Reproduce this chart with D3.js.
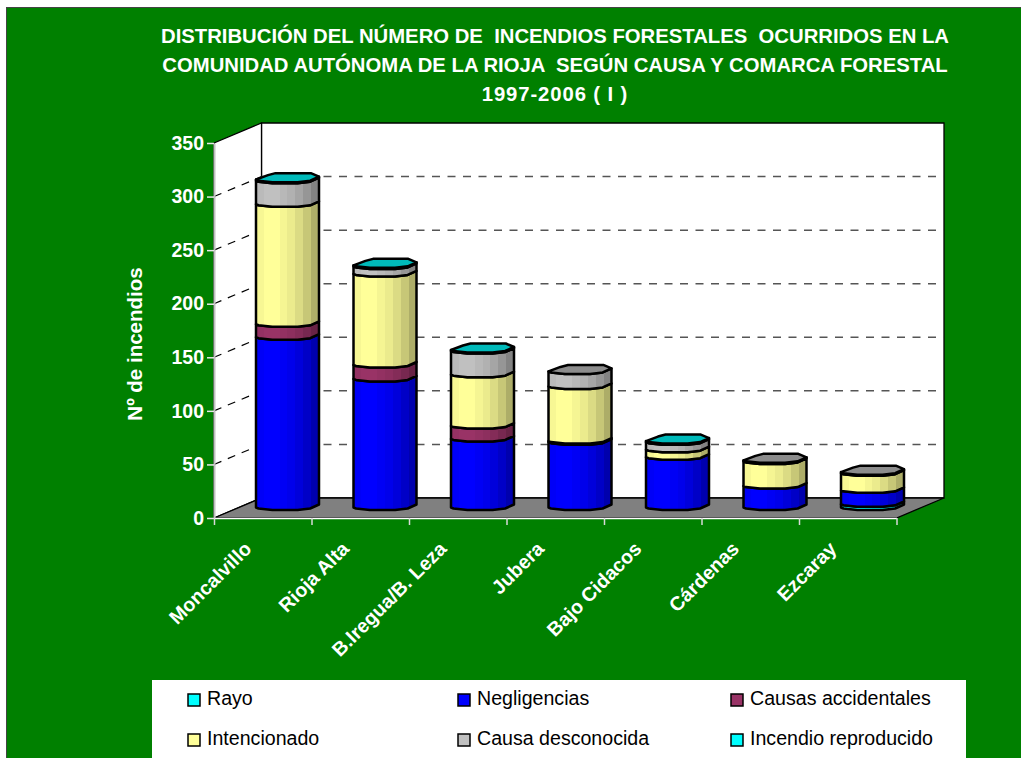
<!DOCTYPE html>
<html>
<head>
<meta charset="utf-8">
<script src="https://cdnjs.cloudflare.com/ajax/libs/d3/7.8.5/d3.min.js"></script>
<style>
  body { margin: 0; background: white; }
  text { font-family: "Liberation Sans", Arial, sans-serif; }
</style>
</head>
<body>
<div id="chart"></div>
<script>
// Data
const comarcas = ["Moncalvillo", "Rioja Alta", "B.Iregua/B. Leza", "Jubera", "Bajo Cidacos", "Cárdenas", "Ezcaray"];
const rayo = [0, 0, 0, 0, 0, 0, 3];
const negligencias = [159, 120, 64, 61, 47, 20, 13];
const accidentales = [12, 13, 12, 1, 0, 0, 0];
const intencionado = [112, 85, 48, 51, 7, 23, 16];
const desconocida = [22, 7, 22, 14, 7, 1, 1];
const reproducido = [1, 1, 1, 0, 1, 0, 0];
const yTicks = [0, 50, 100, 150, 200, 250, 300, 350];
const titleLines = [
  "DISTRIBUCIÓN DEL NÚMERO DE  INCENDIOS FORESTALES  OCURRIDOS EN LA",
  "COMUNIDAD AUTÓNOMA DE LA RIOJA  SEGÚN CAUSA Y COMARCA FORESTAL",
  "1997-2006 ( I )"
];
const seriesNames = ["Rayo", "Negligencias", "Causas accidentales", "Intencionado", "Causa desconocida", "Incendio reproducido"];
const seriesValues = [rayo, negligencias, accidentales, intencionado, desconocida, reproducido];
const seriesColors = ["#00ffff", "#0000ff", "#993366", "#ffff99", "#c0c0c0", "#00ffff"];

const width = 1021, height = 758;
const green = "#008000";

// 3D depth of the plot box
const depthX = 47.5, depthY = -20;

const svg = d3.select("#chart").append("svg")
  .attr("width", width)
  .attr("height", height)
  .style("display", "block");

const x = d3.scaleBand().domain(comarcas).range([214, 896.5]);
const y = d3.scaleLinear().domain([0, 350]).range([518, 143]);
const xEdges = d3.scaleLinear().domain([0, comarcas.length]).range(x.range());

// Background
svg.append("rect").attr("x", 6.5).attr("y", 7.5).attr("width", width).attr("height", height)
  .attr("fill", green).attr("stroke", "#444");

// Title
titleLines.forEach((t, i) => {
  svg.append("text")
    .attr("x", 555)
    .attr("y", 43 + i * 29)
    .attr("text-anchor", "middle")
    .attr("fill", "white")
    .attr("font-weight", "bold")
    .attr("font-size", 20.3)
    .style("letter-spacing", i === 2 ? "0.9px" : null)
    .style("white-space", "pre")
    .text(t);
});

// Walls and floor
const x0 = x.range()[0], x1 = x.range()[1], yBase = y(0), yTop = y(350);
svg.append("polygon")
  .attr("points", [[x0 + depthX, yTop + depthY], [x1 + depthX, yTop + depthY], [x1 + depthX, yBase + depthY], [x0 + depthX, yBase + depthY]].join(" "))
  .attr("fill", "white").attr("stroke", "black").attr("stroke-width", 1.3);
svg.append("polygon")
  .attr("points", [[x0, yTop], [x0 + depthX, yTop + depthY], [x0 + depthX, yBase + depthY], [x0, yBase]].join(" "))
  .attr("fill", "white").attr("stroke", "black").attr("stroke-width", 1.3);
svg.append("polygon")
  .attr("points", [[x0, yBase], [x0 + depthX, yBase + depthY], [x1 + depthX, yBase + depthY], [x1, yBase]].join(" "))
  .attr("fill", "#808080").attr("stroke", "black").attr("stroke-width", 1.3);

// Gridlines on left and back walls
yTicks.filter(v => v > 0 && v < 350).forEach(v => {
  svg.append("line")
    .attr("x1", x0).attr("y1", y(v)).attr("x2", x0 + depthX).attr("y2", y(v) + depthY)
    .attr("stroke", "black").attr("stroke-width", 1.2).attr("stroke-dasharray", "8,7");
  svg.append("line")
    .attr("x1", x0 + depthX).attr("y1", y(v) + depthY).attr("x2", x1 + depthX).attr("y2", y(v) + depthY)
    .attr("stroke", "#555").attr("stroke-width", 1.5).attr("stroke-dasharray", "8,7.5");
});

// Axes
const yAxis = svg.append("g")
  .attr("transform", `translate(${x0},0)`)
  .call(d3.axisLeft(y).tickValues(yTicks).tickSize(7).tickPadding(3).tickSizeOuter(0));
yAxis.select(".domain").attr("stroke", "#c0c0c0").attr("stroke-width", 2);
yAxis.selectAll(".tick line").attr("stroke", "#e8e8e8").attr("stroke-width", 1.5);
yAxis.selectAll("text")
  .attr("fill", "white").attr("font-size", 19.5).attr("font-weight", "bold")
  .style("font-family", "'Liberation Sans', Arial, sans-serif");

const xTickAxis = svg.append("g")
  .attr("transform", `translate(0,${yBase})`)
  .call(d3.axisBottom(xEdges).ticks(comarcas.length).tickSize(7).tickSizeOuter(0).tickFormat(""));
xTickAxis.select(".domain").attr("stroke", "white").attr("stroke-width", 1.5);
xTickAxis.selectAll(".tick line").attr("stroke", "#d8d8d8").attr("stroke-width", 1.5);

const xAxis = svg.append("g")
  .attr("transform", `translate(0,${yBase})`)
  .call(d3.axisBottom(x).tickSize(0));
xAxis.select(".domain").remove();
xAxis.selectAll("text")
  .attr("fill", "white").attr("font-size", 19.6).attr("font-weight", "bold")
  .style("font-family", "'Liberation Sans', Arial, sans-serif")
  .attr("text-anchor", "end")
  .attr("dy", 0)
  .attr("y", 0)
  .attr("transform", "translate(-10,32) rotate(-45)");

// Y title
svg.append("text")
  .attr("transform", "translate(142,344) rotate(-90)")
  .attr("text-anchor", "middle")
  .attr("fill", "white")
  .attr("font-size", 20.5)
  .attr("font-weight", "bold")
  .text("Nº de incendios");

// Gradients for the faceted cylinders, one stepped gradient per series
const defs = svg.append("defs");
const stripes = [0.97, 1, 1, 0.96, 0.92, 0.86, 0.78, 0.68];
seriesColors.forEach((c, i) => {
  const g = defs.append("linearGradient").attr("id", "cyl" + i);
  const rgb = d3.rgb(c);
  stripes.forEach((s, k) => {
    const col = d3.rgb(rgb.r * s, rgb.g * s, rgb.b * s).formatHex();
    g.append("stop").attr("offset", k / stripes.length).attr("stop-color", col);
    g.append("stop").attr("offset", (k + 1) / stripes.length).attr("stop-color", col);
  });
});

// Outline of the low-res cylinder, relative to its axis
const radius = 31.5;
const barOffsetX = depthX / 2 + 1, barOffsetY = -12;
const frontEdge = [[-1, 1.5], [-0.92, 2.5], [-0.48, 4], [0.32, 4], [0.72, 2.5], [1, -1.5]];
const backEdge = [[1, -1.5], [0.74, -5], [-0.38, -5], [-0.62, -3], [-1, 1.5]];

const lineGen = d3.line();

comarcas.forEach((c, b) => {
  const cx = x(c) + x.bandwidth() / 2 + barOffsetX;
  const g = svg.append("g");
  let acc = 0, lastColor = null;
  seriesValues.forEach((vals, s) => {
    const v = vals[b];
    if (v <= 0) return;
    const yLow = y(acc) + barOffsetY, yHigh = y(acc + v) + barOffsetY;
    const low = frontEdge.map(p => [cx + p[0] * radius, yLow + p[1]]);
    const high = frontEdge.map(p => [cx + p[0] * radius, yHigh + p[1]]).reverse();
    g.append("path")
      .attr("d", lineGen(low.concat(high)) + "Z")
      .attr("fill", `url(#cyl${s})`)
      .attr("stroke", "black").attr("stroke-width", 2.5).attr("stroke-linejoin", "round");
    acc += v;
    lastColor = seriesColors[s];
  });
  // top face, darker shade of the highest series
  const yCap = y(acc) + barOffsetY;
  const cap = frontEdge.concat(backEdge).map(p => [cx + p[0] * radius, yCap + p[1]]);
  const top = d3.rgb(lastColor);
  g.append("path")
    .attr("d", lineGen(cap) + "Z")
    .attr("fill", d3.rgb(top.r * 0.73, top.g * 0.73, top.b * 0.73).formatHex())
    .attr("stroke", "black").attr("stroke-width", 2.5).attr("stroke-linejoin", "round");
});

// Legend
svg.append("rect").attr("x", 152).attr("y", 680).attr("width", 814).attr("height", 78).attr("fill", "white");
const legendCols = [188, 458, 731];
const legendRows = [694, 734];
seriesNames.forEach((name, i) => {
  const lx = legendCols[i % 3], ly = legendRows[Math.floor(i / 3)];
  svg.append("rect").attr("x", lx).attr("y", ly).attr("width", 12).attr("height", 12)
    .attr("fill", seriesColors[i]).attr("stroke", "black").attr("stroke-width", 1.5);
  svg.append("text")
    .attr("x", lx + 19).attr("y", ly + 11)
    .attr("font-size", 19.6).attr("fill", "black")
    .text(name);
});
</script>
</body>
</html>
